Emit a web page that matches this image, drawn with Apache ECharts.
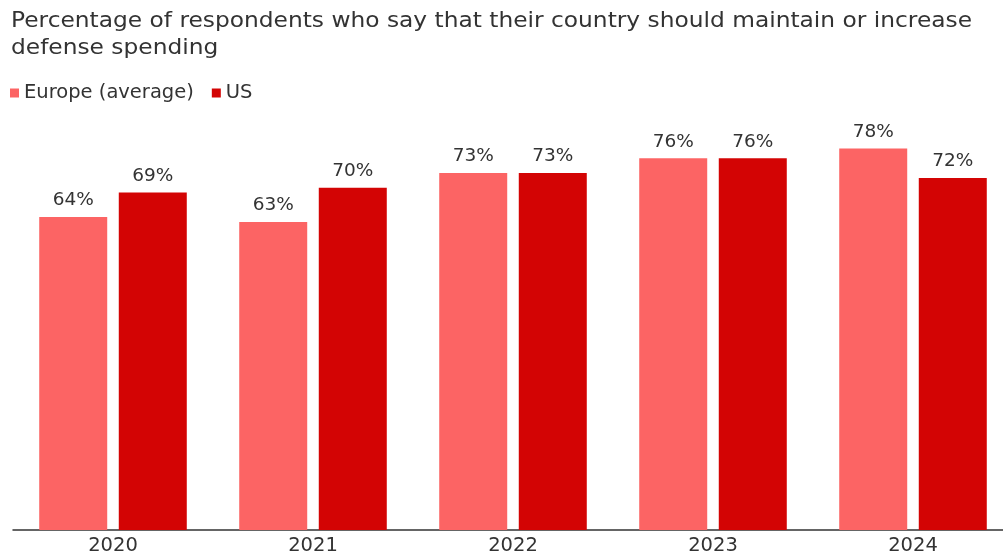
<!DOCTYPE html>
<html>
<head>
<meta charset="utf-8">
<script src="https://cdn.jsdelivr.net/npm/echarts@6/dist/echarts.min.js"></script>
<style>
  html, body { margin: 0; padding: 0; background: #fff; }
  #chart { width: 1003px; height: 556px; }
</style>
</head>
<body>
<div id="chart"></div>
<script>
// Survey years and shares of respondents (%)
const years = ['2020', '2021', '2022', '2023', '2024'];
const europeAvg = [64, 63, 73, 76, 78];
const us = [69, 70, 73, 76, 72];
const seriesNames = ['Europe (average)', 'US'];
const titleLines = [
  'Percentage of respondents who say that their country should maintain or increase',
  'defense spending'
];

const chart = echarts.init(document.getElementById('chart'));
const font = '"DejaVu Sans", sans-serif';
const ink = '#333';
const labelStyle = {
  show: true,
  position: 'top',
  distance: 7,
  formatter: '{c}%',
  color: ink,
  fontSize: 18.5,
  fontFamily: font
};

chart.setOption({
  animation: false,
  // Two-line heading, set slightly wide
  graphic: titleLines.map((line, i) => ({
    type: 'text',
    x: 11,
    y: 11 + i * 27,
    scaleX: 1.11,
    style: {
      text: line,
      fill: ink,
      font: '21px "DejaVu Sans", sans-serif',
      textVerticalAlign: 'top'
    }
  })),
  legend: {
    data: seriesNames,
    left: 5,
    top: 78,
    icon: 'rect',
    itemWidth: 9,
    itemHeight: 9,
    itemGap: 18,
    textStyle: { fontFamily: font, fontSize: 19.5, color: ink }
  },
  grid: { left: 13, top: 41, right: -10, bottom: 26, outerBoundsMode: 'none' },
  xAxis: {
    type: 'category',
    data: years,
    axisTick: { show: false },
    axisLine: { lineStyle: { color: ink, width: 1.5 } },
    axisLabel: { color: ink, fontSize: 19.5, fontFamily: font, margin: 6 }
  },
  yAxis: {
    type: 'value',
    min: 0,
    max: 100,
    show: false,
    splitLine: { show: false }
  },
  series: [
    {
      name: seriesNames[0],
      type: 'bar',
      data: europeAvg,
      barWidth: 68,
      barGap: '17%',
      itemStyle: { color: '#fc6464' },
      label: labelStyle
    },
    {
      name: seriesNames[1],
      type: 'bar',
      data: us,
      barWidth: 68,
      itemStyle: { color: '#d30404' },
      label: labelStyle
    }
  ]
});
</script>
</body>
</html>
